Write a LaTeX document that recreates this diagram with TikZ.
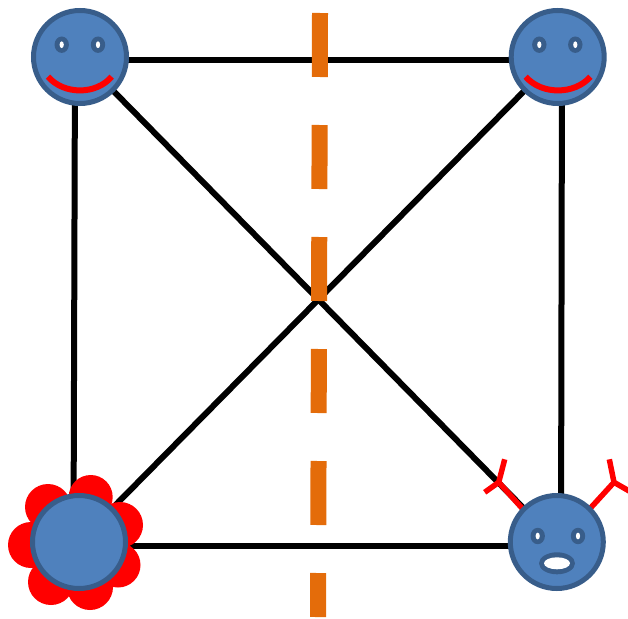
\documentclass[tikz,border=0pt]{standalone}
\definecolor{faceblue}{HTML}{4F81BD}
\definecolor{faceedge}{HTML}{385D8A}
\definecolor{dashorange}{HTML}{E46C0A}
\tikzset{
  face/.style={circle,draw=faceedge,fill=faceblue,line width=5pt,minimum size=93pt,inner sep=0pt,outer sep=0pt},
  edge/.style={draw=black,line width=6pt},
  petal/.style={fill=red,draw=none},
  smile/.style={draw=red,line width=6pt},
  antenna/.style={draw=red,line width=5.5pt},
  eyeball/.style={fill=faceedge,draw=none},
  pupil/.style={fill=white,draw=none},
}
\begin{document}
\begin{tikzpicture}[x=1pt,y=-1pt]
\useasboundingbox (0,0) rectangle (628,618);
% positions
\coordinate (tl) at (80,57);
\coordinate (tr) at (557.7,57);
\coordinate (bl) at (79,542);
\coordinate (br) at (556.8,542);
\coordinate (dashtop) at (320,13);
\coordinate (dashbot) at (318,617);
% connectors
\draw[edge] ([yshift=-3pt]tl) -- ([yshift=-3pt]tr);
\draw[edge] ([yshift=-4pt]bl) -- ([yshift=-4pt]br);
\draw[edge] ([xshift=-5pt]tl) -- ([xshift=-5.5pt]bl);
\draw[edge] ([xshift=4.3pt]tr) -- ([xshift=4.2pt]br);
\draw[edge] (tl) -- (br);
\draw[edge] (tr) -- (bl);
% dividing line
\draw[dashorange,line width=16pt,dash pattern=on 64pt off 48pt] (dashtop) -- (dashbot);
% flower petals
\fill[petal] (90.7,497) circle[radius=22];
\fill[petal] (48,507) circle[radius=23];
\fill[petal] (31,545) circle[radius=23];
\fill[petal] (51,582) circle[radius=23];
\fill[petal] (90,587) circle[radius=23];
\fill[petal] (118,565) circle[radius=22.5];
\fill[petal] (120,525) circle[radius=23];
% antennas
\draw[antenna] (523,509.3) -- (498.7,482.3);
\draw[antenna] (504.7,459.3) -- (498.7,482.3) -- (484.7,492.3);
\draw[antenna] (588.7,510) -- (614,482.3);
\draw[antenna] (609.3,459.3) -- (614,482.3) -- (630,491.5);
% faces
\node[face] (ftl) at (tl) {};
\node[face] (ftr) at (tr) {};
\node[face] (fbl) at (bl) {};
\node[face] (fbr) at (br) {};
% eyes
\foreach \ex/\ey in {61.7/44.7,98/44.7,539.3/44.7,575.3/44.7,537.7/536,578/536}{
  \fill[eyeball] (\ex,\ey) ellipse[x radius=7.2,y radius=8.2];
  \fill[pupil] (\ex,\ey) ellipse[x radius=2.1,y radius=3.4];
}
% smiles
\draw[smile] (48,76.7) .. controls (64,95) and (96,95) .. (111.7,76.7);
\draw[smile] (525.7,76.7) .. controls (541.5,95) and (574.5,95) .. (590.4,76.7);
% mouth
\fill[eyeball] (557,563.3) ellipse[x radius=18,y radius=11];
\fill[pupil] (557,563.3) ellipse[x radius=13,y radius=6];
\end{tikzpicture}
\end{document}
